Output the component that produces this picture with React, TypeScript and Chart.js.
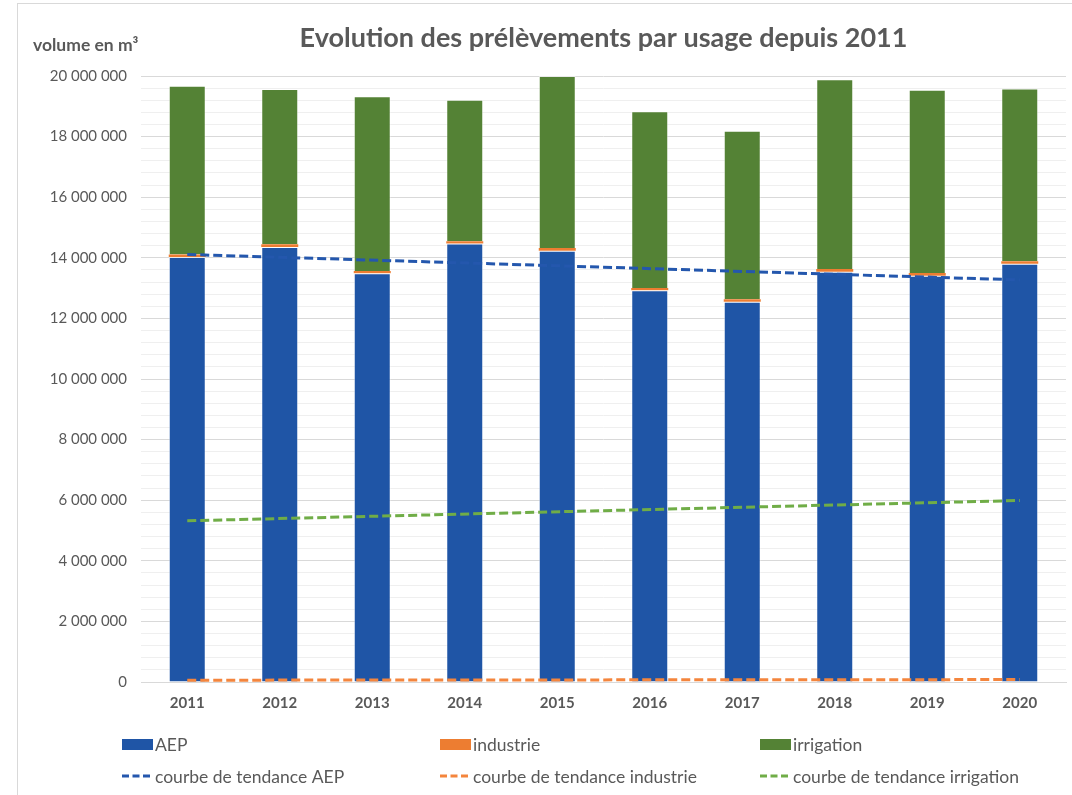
import React, { useEffect, useRef } from "react";
import { Chart, registerables } from "chart.js";

Chart.register(...registerables);

const years = ["2011", "2012", "2013", "2014", "2015", "2016", "2017", "2018", "2019", "2020"];
const aep = [14030000, 14360000, 13490000, 14470000, 14230000, 12930000, 12550000, 13540000, 13410000, 13800000];
const industrie = [80000, 85000, 75000, 80000, 90000, 75000, 80000, 90000, 85000, 90000];
const irrigation = [5570000, 5125000, 5765000, 4670000, 5680000, 5835000, 5560000, 6260000, 6055000, 5700000];
// trend lines: values read at first and last year
const trendAep = [14110000, null, null, null, null, null, null, null, null, 13270000];
const trendIndustrie = [60000, null, null, null, null, null, null, null, null, 80000];
const trendIrrigation = [5320000, null, null, null, null, null, null, null, null, 5990000];

const title = "Evolution des prélèvements par usage depuis 2011";
const yTitle = "volume en m³";

const FONT = "Lato";
const TEXT = "#595959";

function fmt(v: number) {
  return String(Math.round(v)).replace(/\B(?=(\d{3})+(?!\d))/g, " ");
}

const decorPlugin = {
  id: "decor",
  afterDraw(chart: any) {
    const ctx = chart.ctx;
    const area = chart.chartArea;
    ctx.save();
    // outer border
    ctx.strokeStyle = "#d9d9d9";
    ctx.lineWidth = 1;
    ctx.strokeRect(17.5, 3.5, 1100, 900);
    // title
    ctx.fillStyle = TEXT;
    ctx.font = `bold 27px ${FONT}`;
    ctx.textAlign = "center";
    ctx.textBaseline = "middle";
    ctx.fillText(title, (area.left + area.right) / 2, 38);
    // y title
    ctx.font = `bold 17.5px ${FONT}`;
    ctx.textAlign = "left";
    ctx.fillText(yTitle, 33, 45);
    // legend
    const cols = [122, 440, 760];
    const rows = [744, 776];
    const ds = chart.data.datasets;
    ctx.font = `17.5px ${FONT}`;
    ctx.textBaseline = "middle";
    for (let i = 0; i < ds.length; i++) {
      const c = cols[i % 3];
      const r = rows[Math.floor(i / 3)];
      const d = ds[i];
      if (d.type === "line") {
        ctx.strokeStyle = d.borderColor;
        ctx.lineWidth = 3;
        ctx.setLineDash([7, 3.5]);
        ctx.beginPath();
        ctx.moveTo(c, r);
        ctx.lineTo(c + 31, r);
        ctx.stroke();
        ctx.setLineDash([]);
      } else {
        ctx.fillStyle = d.backgroundColor;
        ctx.fillRect(c, r - 5, 31, 11);
      }
      ctx.fillStyle = TEXT;
      ctx.fillText(d.label, c + 33, r + 1);
    }
    ctx.restore();
  },
};

export default function App() {
  const ref = useRef<HTMLCanvasElement>(null);
  useEffect(() => {
    document.body.style.margin = "0";
    const barBorder = "rgba(255,255,255,0.45)";
    const chart = new Chart(ref.current as HTMLCanvasElement, {
      type: "bar",
      data: {
        labels: years,
        datasets: [
          { type: "bar", label: "AEP", data: aep, backgroundColor: "#1F55A6", borderColor: barBorder, borderWidth: 1, stack: "s", order: 1 },
          { type: "bar", label: "industrie", data: industrie, backgroundColor: "#ED7D31", borderColor: barBorder, borderWidth: 0, stack: "s", order: 1 },
          { type: "bar", label: "irrigation", data: irrigation, backgroundColor: "#548235", borderColor: barBorder, borderWidth: 1, stack: "s", order: 1 },
          { type: "line", label: "courbe de tendance AEP", data: trendAep, yAxisID: "yl", borderColor: "#2457AD", borderWidth: 3, borderDash: [9, 4], pointRadius: 0, spanGaps: true, fill: false, order: 0 },
          { type: "line", label: "courbe de tendance industrie", data: trendIndustrie, yAxisID: "yl", borderColor: "#F4853D", borderWidth: 3, borderDash: [9, 4], pointRadius: 0, spanGaps: true, fill: false, order: 0 },
          { type: "line", label: "courbe de tendance irrigation", data: trendIrrigation, yAxisID: "yl", borderColor: "#70AD47", borderWidth: 3, borderDash: [9, 4], pointRadius: 0, spanGaps: true, fill: false, order: 0 },
        ] as any,
      },
      options: {
        animation: false,
        responsive: false,
        layout: { padding: { top: 76, right: 6, left: 0, bottom: 0 } },
        plugins: { legend: { display: false }, title: { display: false }, tooltip: { enabled: false } },
        datasets: { bar: { categoryPercentage: 1, barPercentage: 0.4 } },
        scales: {
          x: {
            stacked: true,
            grid: { display: false, drawTicks: false },
            border: { display: true, color: "#d9d9d9", width: 1 },
            ticks: { color: TEXT, font: { family: FONT, size: 15, weight: "bold" }, padding: 12 },
            afterFit: (s: any) => { s.height = 113; },
          },
          y: {
            stacked: true,
            min: 0,
            max: 20000000,
            grid: {
              drawTicks: false,
              color: (c: any) => (c.tick && c.tick.value % 2000000 === 0 ? "#d9d9d9" : "#efefef"),
            },
            border: { display: false },
            ticks: {
              stepSize: 400000,
              autoSkip: false,
              color: TEXT,
              font: { family: FONT, size: 15 },
              padding: 14,
              callback: (v: any) => (Number(v) % 2000000 === 0 ? fmt(Number(v)) : ""),
            },
            afterFit: (s: any) => { s.width = 141; },
          },
          yl: { display: false, min: 0, max: 20000000, stacked: false },
        },
      } as any,
      plugins: [decorPlugin],
    });
    return () => chart.destroy();
  }, []);
  return (
    <div style={{ position: "absolute", left: 0, top: 0, width: 1072, height: 795 }}>
      <canvas ref={ref} width={1072} height={795} style={{ display: "block" }} />
    </div>
  );
}
